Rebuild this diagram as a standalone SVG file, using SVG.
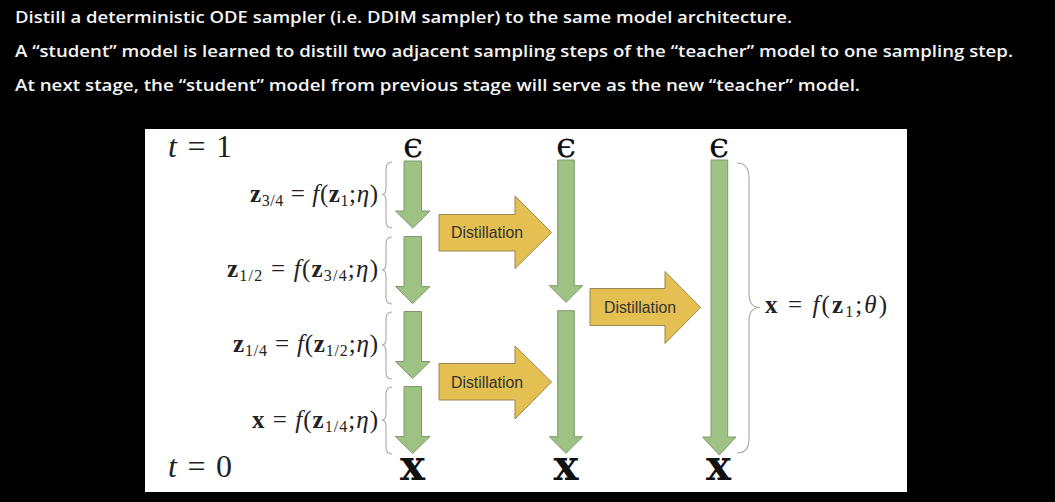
<svg xmlns="http://www.w3.org/2000/svg" width="1055" height="502" viewBox="0 0 1055 502">
<defs>
<style>
.cap{font-family:"Open Sans","Noto Sans","DejaVu Sans",sans-serif;font-size:16.5px;font-weight:600;fill:#f4f4f4}
.math{font-family:"Liberation Serif","DejaVu Serif",serif;font-size:25px;fill:#222}
.big{font-family:"Liberation Serif","DejaVu Serif",serif;font-size:32px;fill:#222}
.eps{font-family:"DejaVu Serif","Liberation Serif",serif;font-size:36px;fill:#111}
.xb{font-family:"DejaVu Serif","Liberation Serif",serif;font-size:42px;font-weight:bold;fill:#111}
.dl{font-family:"Liberation Sans",Arial,sans-serif;font-size:15.8px;fill:#333}
.green{fill:#9dc283;stroke:#7e9a6c;stroke-width:1}
.yellow{fill:#e4bf52;stroke:#9a8650;stroke-width:1}
.brace{fill:none;stroke:#a8a8a8;stroke-width:1.1}
.b{font-weight:bold}
.i{font-style:italic}
</style>
<clipPath id="panelClip"><rect x="145" y="129" width="762" height="363"/></clipPath>
</defs>
<rect x="0" y="0" width="1055" height="502" fill="#000"/>
<g id="caption">
<text class="cap" x="15" y="23" textLength="777" lengthAdjust="spacingAndGlyphs">Distill a deterministic ODE sampler (i.e. DDIM sampler) to the same model architecture.</text>
<text class="cap" x="15" y="57" textLength="998" lengthAdjust="spacingAndGlyphs">A “student” model is learned to distill two adjacent sampling steps of the “teacher” model to one sampling step.</text>
<text class="cap" x="15" y="91" textLength="845" lengthAdjust="spacingAndGlyphs">At next stage, the “student” model from previous stage will serve as the new “teacher” model.</text>
</g>
<rect id="panel" x="145" y="129" width="762" height="363" fill="#fff"/>
<g id="time-labels">
<text class="big" x="168" y="157" textLength="64" lengthAdjust="spacing"><tspan class="i">t</tspan> = 1</text>
<text class="big" x="168" y="477" textLength="64" lengthAdjust="spacing"><tspan class="i">t</tspan> = 0</text>
</g>
<g id="step-labels">
<text class="math" x="250" y="202" textLength="128" lengthAdjust="spacing"><tspan class="b">z</tspan><tspan font-size="16" dy="4">3/4</tspan><tspan dy="-4"> = </tspan><tspan class="i">f</tspan>(<tspan class="b">z</tspan><tspan font-size="16" dy="4">1</tspan><tspan dy="-4">;</tspan><tspan class="i">η</tspan>)</text>
<text class="math" x="227" y="277" textLength="151" lengthAdjust="spacing"><tspan class="b">z</tspan><tspan font-size="16" dy="4">1/2</tspan><tspan dy="-4"> = </tspan><tspan class="i">f</tspan>(<tspan class="b">z</tspan><tspan font-size="16" dy="4">3/4</tspan><tspan dy="-4">;</tspan><tspan class="i">η</tspan>)</text>
<text class="math" x="233" y="352" textLength="145" lengthAdjust="spacing"><tspan class="b">z</tspan><tspan font-size="16" dy="4">1/4</tspan><tspan dy="-4"> = </tspan><tspan class="i">f</tspan>(<tspan class="b">z</tspan><tspan font-size="16" dy="4">1/2</tspan><tspan dy="-4">;</tspan><tspan class="i">η</tspan>)</text>
<text class="math" x="252" y="428" textLength="126" lengthAdjust="spacing"><tspan class="b">x</tspan> = <tspan class="i">f</tspan>(<tspan class="b">z</tspan><tspan font-size="16" dy="4">1/4</tspan><tspan dy="-4">;</tspan><tspan class="i">η</tspan>)</text>
<text class="math" x="765" y="313" textLength="122" lengthAdjust="spacing"><tspan class="b">x</tspan> = <tspan class="i">f</tspan>(<tspan class="b">z</tspan><tspan font-size="16" dy="4">1</tspan><tspan dy="-4">;</tspan><tspan class="i">θ</tspan>)</text>
</g>
<g id="endpoints">
<text class="eps" x="413" y="157" text-anchor="middle">ϵ</text>
<text class="eps" x="566" y="157" text-anchor="middle">ϵ</text>
<text class="eps" x="719" y="157" text-anchor="middle">ϵ</text>
<text class="xb" x="412.5" y="480" text-anchor="middle">x</text>
<text class="xb" x="566" y="480" text-anchor="middle">x</text>
<text class="xb" x="718.5" y="480" text-anchor="middle">x</text>
</g>
<g id="connectors">
<g id="braces">
<path class="brace" d="M392,162 Q386,162 386,169 L386,188 Q386,194.5 382,194.5 Q386,194.5 386,201 L386,221 Q386,228 392,228"/>
<path class="brace" d="M392,237 Q386,237 386,244 L386,263 Q386,270 382,270 Q386,270 386,277 L386,297 Q386,304 392,304"/>
<path class="brace" d="M392,312 Q386,312 386,319 L386,338 Q386,345 382,345 Q386,345 386,352 L386,372 Q386,379 392,379"/>
<path class="brace" d="M392,387 Q386,387 386,394 L386,413 Q386,420 382,420 Q386,420 386,427 L386,447 Q386,454 392,454"/>
<path class="brace" d="M737,163 Q749,163 749,178 L749,294 Q749,307.5 760,307.5 Q749,307.5 749,321 L749,439 Q749,453 737,453"/>
</g>
<g id="teacher-steps">
<path class="green" d="M404,161 H421.5 V211 H430 L412.7,228 L395.5,211 H404 Z"/>
<path class="green" d="M404,236.5 H421.5 V286.5 H430 L412.7,303.5 L395.5,286.5 H404 Z"/>
<path class="green" d="M404,311.5 H421.5 V361.5 H430 L412.7,378.5 L395.5,361.5 H404 Z"/>
<path class="green" d="M404,386.5 H421.5 V436.5 H430 L412.7,453.5 L395.5,436.5 H404 Z"/>
</g>
<g id="student-steps">
<path class="green" d="M557.7,160 H574.3 V285.7 H582.7 L566,302.3 L549.3,285.7 H557.7 Z"/>
<path class="green" d="M557.7,310.7 H574.3 V436.7 H582.7 L566,453.3 L549.3,436.7 H557.7 Z"/>
</g>
<g id="student2-step">
<path class="green" d="M711,160 H727.7 V437 H736 L719.3,455 L702.6,437 H711 Z"/>
</g>
</g>
<g id="distill-1">
<path class="yellow" d="M439,214.5 H515 V196 L551.5,232.5 L515,268.5 V251 H439 Z"/>
<text class="dl" x="451" y="238">Distillation</text>
</g>
<g id="distill-2">
<path class="yellow" d="M439,363.5 H515 V346 L551.5,382 L515,419 V400 H439 Z"/>
<text class="dl" x="451" y="387.5">Distillation</text>
</g>
<g id="distill-3">
<path class="yellow" d="M590,288.5 H665 V271.5 L700.5,307.5 L665,343.5 V325.5 H590 Z"/>
<text class="dl" x="604" y="313">Distillation</text>
</g>
<g id="cut-label" clip-path="url(#panelClip)">
<text class="dl" x="335" y="508" font-size="24.5" fill="#222">Distillation</text>
</g>
</svg>
